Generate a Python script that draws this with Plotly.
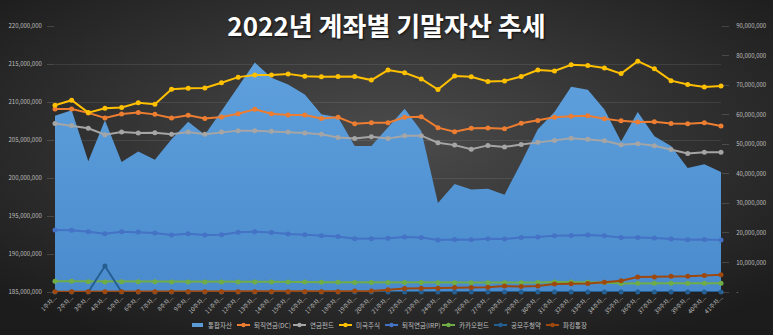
import base64
import plotly.graph_objects as go

# ---------------- data ----------------
weeks = ["1주차...", "2주차...", "3주차...", "4주차...", "5주차...", "6주차...", "7주차...",
         "8주차...", "9주차...", "10주차...", "11주차...", "12주차...", "13주차...", "14주차...",
         "15주차...", "16주차...", "17주차...", "18주차...", "19주차...", "20주차...", "21주차...",
         "22주차...", "23주차...", "24주차...", "25주차...", "26주차...", "27주차...", "28주차...",
         "29주차...", "30주차...", "31주차...", "32주차...", "33주차...", "34주차...", "35주차...",
         "36주차...", "37주차...", "38주차...", "39주차...", "40주차...", "41주차..."]

total_assets = [208200000, 208900000, 202200000, 207600000, 202100000, 203500000, 202400000,
                205100000, 207400000, 205700000, 208800000, 212000000, 215200000, 213200000,
                212300000, 211000000, 208400000, 208000000, 204200000, 204200000, 206700000,
                209100000, 206200000, 196700000, 199200000, 198500000, 198600000, 197800000,
                202000000, 206400000, 208700000, 212000000, 211600000, 209000000, 204800000,
                208700000, 205500000, 204200000, 201300000, 201800000, 200800000]

pension_dc = [61900000, 61900000, 60600000, 58900000, 60200000, 60700000, 60100000,
              58900000, 59800000, 58700000, 59200000, 60300000, 61800000, 60300000,
              59900000, 59900000, 58700000, 59100000, 56900000, 57300000, 57300000,
              59100000, 59300000, 55600000, 54200000, 55400000, 55500000, 55200000,
              57100000, 58000000, 59100000, 59500000, 59600000, 58600000, 57900000,
              57500000, 57600000, 57000000, 56900000, 57300000, 56200000]

pension_fund = [57000000, 56300000, 55400000, 53200000, 54100000, 53800000, 53900000,
                53400000, 54100000, 53400000, 54100000, 54600000, 54600000, 54400000,
                54100000, 53800000, 53400000, 52300000, 51900000, 52500000, 51900000,
                52900000, 52900000, 50500000, 49700000, 48300000, 49600000, 49100000,
                49900000, 50700000, 51300000, 52000000, 51700000, 51200000, 49800000,
                50200000, 49500000, 48200000, 46900000, 47300000, 47300000]

us_stocks = [63200000, 64900000, 60700000, 62200000, 62400000, 64000000, 63500000,
             68600000, 68900000, 69000000, 70800000, 72700000, 73400000, 73400000,
             73800000, 73000000, 72800000, 72900000, 72900000, 71700000, 75100000,
             74200000, 72100000, 68500000, 73100000, 72800000, 71200000, 71400000,
             72900000, 75100000, 74800000, 76900000, 76600000, 75800000, 73900000,
             78100000, 75500000, 71500000, 70200000, 69400000, 69700000]

pension_irp = [21000000, 20900000, 20400000, 19700000, 20400000, 20300000, 20000000,
               19300000, 19700000, 19300000, 19400000, 20200000, 20400000, 20100000,
               19600000, 19400000, 19000000, 18800000, 18000000, 18000000, 18200000,
               18600000, 18400000, 17600000, 17800000, 17700000, 18000000, 17900000,
               18400000, 18600000, 19000000, 19100000, 19300000, 19000000, 18400000,
               18400000, 18300000, 17900000, 17700000, 17800000, 17600000]

kakao_fund = [3600000, 3600000, 3500000, 3400000, 3500000, 3500000, 3500000,
              3400000, 3400000, 3400000, 3400000, 3400000, 3400000, 3400000,
              3400000, 3400000, 3300000, 3300000, 3200000, 3200000, 3200000,
              3200000, 3200000, 3100000, 3100000, 3100000, 3100000, 3100000,
              3100000, 3200000, 3400000, 3400000, 3300000, 3200000, 2900000,
              3000000, 3000000, 3000000, 3000000, 3000000, 3000000]

ipo_subscription = [0, 0, 0, 8800000, 0, 0, 0,
                    0, 0, 0, 0, 0, 0, 0,
                    0, 0, 0, 0, 0, 0, 0,
                    0, 0, 0, 0, 0, 0, 0,
                    0, 0, 0, 0, 0, 0, 0,
                    0, 0, 0, 0, 0, 0]

parking_account = [100000, 100000, 100000, 100000, 100000, 100000, 100000,
                   100000, 100000, 100000, 100000, 100000, 100000, 100000,
                   100000, 100000, 100000, 100000, 300000, 300000, 800000,
                   1200000, 1300000, 1300000, 1500000, 1500000, 1600000, 2000000,
                   1900000, 2000000, 2700000, 2800000, 2900000, 3300000, 3800000,
                   5100000, 5100000, 5300000, 5300000, 5600000, 5800000]

left_tick_values = [185000000, 190000000, 195000000, 200000000, 205000000,
                    210000000, 215000000, 220000000]
left_tick_labels = ["185,000,000", "190,000,000", "195,000,000", "200,000,000",
                    "205,000,000", "210,000,000", "215,000,000", "220,000,000"]
right_tick_values = [0, 10000000, 20000000, 30000000, 40000000, 50000000,
                     60000000, 70000000, 80000000, 90000000]
right_tick_labels = ["-", "10,000,000", "20,000,000", "30,000,000", "40,000,000",
                     "50,000,000", "60,000,000", "70,000,000", "80,000,000", "90,000,000"]

line_series = [
    ("퇴직연금(DC)", pension_dc, "#ED7D31"),
    ("연금펀드", pension_fund, "#A5A5A5"),
    ("미국주식", us_stocks, "#FFC000"),
    ("퇴직연금(IRP)", pension_irp, "#4472C4"),
    ("카카오펀드", kakao_fund, "#70AD47"),
    ("공모주청약", ipo_subscription, "#255E91"),
    ("파킹통장", parking_account, "#9E480E"),
]

# ---------------- layout constants ----------------
W, H = 773, 335
ML, MR, MT, MB = 55, 52, 26, 43
PW, PH = W - ML - MR, H - MT - MB
FONT = "Noto Sans CJK KR"
TXT = "#bfbfbf"

fig = go.Figure()

fig.add_trace(go.Scatter(
    x=weeks, y=total_assets, name="통합자산", mode="lines",
    line=dict(width=0, color="#5B9BD5"),
    fill="tozeroy",
    fillgradient=dict(type="vertical",
                      colorscale=[[0, "#4a8bcd"], [1, "#5fa1dd"]],
                      start=185000000, stop=216000000),
    showlegend=False, hoverinfo="skip",
))

for name, vals, color in line_series:
    fig.add_trace(go.Scatter(
        x=weeks, y=vals, name=name, yaxis="y2", mode="lines+markers",
        line=dict(color=color, width=2),
        marker=dict(color=color, size=5),
        cliponaxis=False, showlegend=False,
    ))

# background radial gradient
svg = (f"<svg xmlns='http://www.w3.org/2000/svg' width='{W}' height='{H}' "
       f"viewBox='0 0 {W} {H}' preserveAspectRatio='none'>"
       "<defs><radialGradient id='g' cx='50%' cy='42%' r='68%'>"
       "<stop offset='0%' stop-color='#4c4c4c'/>"
       "<stop offset='100%' stop-color='#1c1c1c'/>"
       "</radialGradient></defs>"
       f"<rect width='{W}' height='{H}' fill='url(#g)'/></svg>")
bg_src = "data:image/svg+xml;base64," + base64.b64encode(svg.encode()).decode()

# manual legend (compact, like the original)
legend_items = [("통합자산", "#5B9BD5", True)] + [(n, c, False) for n, _, c in line_series]
legend_sym_px = [192, 237, 293, 339, 385, 442, 494, 546]
legend_y_px = 325

shapes = []
annotations = []
ly = (H - MB - legend_y_px) / PH
for (name, color, is_area), sx in zip(legend_items, legend_sym_px):
    x0 = (sx - ML) / PW
    x1 = (sx + 13 - ML) / PW
    if is_area:
        shapes.append(dict(type="rect", xref="paper", yref="paper",
                           x0=x0, x1=(sx + 11 - ML) / PW,
                           y0=ly - 2 / PH, y1=ly + 2 / PH,
                           fillcolor=color, line=dict(width=0)))
        tx = sx + 14
    else:
        shapes.append(dict(type="line", xref="paper", yref="paper",
                           x0=x0, x1=x1, y0=ly, y1=ly,
                           line=dict(color=color, width=2)))
        shapes.append(dict(type="circle", xref="paper", yref="paper",
                           xsizemode="pixel", ysizemode="pixel",
                           xanchor=(sx + 6.5 - ML) / PW, yanchor=ly,
                           x0=-2.2, x1=2.2, y0=-2.2, y1=2.2,
                           fillcolor=color, line=dict(width=0)))
        tx = sx + 15
    annotations.append(dict(text=name, xref="paper", yref="paper",
                            x=(tx - ML) / PW, y=ly, xanchor="left", yanchor="middle",
                            showarrow=False, font=dict(family=FONT, size=6.5, color=TXT)))

fig.update_layout(
    width=W, height=H,
    margin=dict(l=ML, r=MR, t=MT, b=MB, autoexpand=False),
    paper_bgcolor="#2c2c2c",
    plot_bgcolor="rgba(0,0,0,0)",
    showlegend=False,
    title=dict(text="<b>2022년 계좌별 기말자산 추세</b>",
               x=0.5, xref="container", xanchor="center",
               y=1 - 27 / H, yref="container", yanchor="middle",
               font=dict(family=FONT, size=26, color="#ffffff",
                         shadow="1px 1px 2px rgba(0,0,0,0.7)")),
    xaxis=dict(type="category", range=[0, 40], showgrid=False, zeroline=False,
               showline=False, ticks="", tickangle=-45,
               tickfont=dict(family=FONT, size=6, color=TXT)),
    yaxis=dict(range=[185000000, 220000000], tickvals=left_tick_values,
               ticktext=left_tick_labels, showgrid=True,
               gridcolor="rgba(255,255,255,0.09)", gridwidth=1, zeroline=False,
               ticks="outside", ticklen=7, tickcolor="rgba(255,255,255,0.15)",
               ticklabelstandoff=4,
               tickfont=dict(family=FONT, size=6, color=TXT)),
    yaxis2=dict(range=[0, 90000000], overlaying="y", side="right",
                tickvals=right_tick_values, ticktext=right_tick_labels,
                showgrid=False, zeroline=False,
                ticks="outside", ticklen=7, tickcolor="rgba(255,255,255,0.15)",
                ticklabelstandoff=6,
                tickfont=dict(family=FONT, size=6, color=TXT)),
    images=[dict(source=bg_src, xref="paper", yref="paper",
                 x=-ML / PW, y=1 + MT / PH, sizex=W / PW, sizey=H / PH,
                 xanchor="left", yanchor="top", sizing="stretch", layer="below")],
    shapes=shapes,
    annotations=annotations,
)

fig.write_html("out.html")
